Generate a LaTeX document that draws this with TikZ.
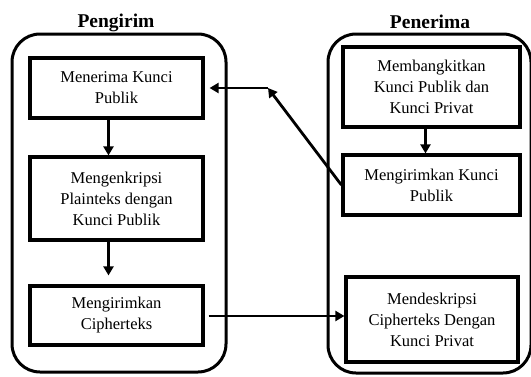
\documentclass[tikz,border=0pt]{standalone}
\usepackage{fontspec}
\setmainfont{Liberation Serif}
\usetikzlibrary{arrows.meta}
\begin{document}
\begin{tikzpicture}[x=1pt,y=-1pt,
  container/.style={line width=3pt,rounded corners=28pt},
  stepbox/.style={draw,line width=3.2pt,align=center,inner sep=0pt,
    font=\fontsize{16.5}{21}\selectfont},
  titletext/.style={font=\fontsize{19.5}{22}\selectfont\bfseries,anchor=base},
  conn/.style={line width=2.8pt,-{Triangle[length=9pt,width=10pt]}}]
\clip (0,0) rectangle (531,376);
\useasboundingbox (0,0) rectangle (531,376);
% containers
\draw[container] (12,34) rectangle (226,372);
\draw[container] (328,34) rectangle (531,373);
% titles
\node[titletext] (t1) at (116,27) {Pengirim};
\node[titletext] (t2) at (430,28) {Penerima};
% left boxes
\node[stepbox,minimum width=173pt,minimum height=60pt] (b1) at (116.5,88) {Menerima Kunci\\Publik};
\node[stepbox,minimum width=173pt,minimum height=83pt] (b2) at (116.5,198.5) {Mengenkripsi\\Plainteks dengan\\Kunci Publik};
\node[stepbox,minimum width=173pt,minimum height=59pt] (b3) at (116.5,315.5) {Mengirimkan\\Cipherteks};
% right boxes
\node[stepbox,minimum width=177pt,minimum height=80pt] (ra) at (431.5,87) {Membangkitkan\\Kunci Publik dan\\Kunci Privat};
\node[stepbox,minimum width=177pt,minimum height=60pt] (rb) at (431.5,185) {Mengirimkan Kunci\\Publik};
\node[stepbox,minimum width=172pt,minimum height=85pt] (rc) at (432,319.5) {Mendeskripsi\\Cipherteks Dengan\\Kunci Privat};
% connectors
\coordinate (corner) at (268,88);
\draw[conn] ([xshift=-8pt]b1.south) -- ([xshift=-8pt]b1.south |- b2.north);
\draw[conn,shorten >=9pt] ([xshift=-8pt]b2.south) -- ([xshift=-8pt]b2.south |- b3.north);
\draw[conn] ([xshift=-6pt]ra.south) -- ([xshift=-6pt]ra.south |- rb.north);
\draw[conn,shorten <=4pt] (b3.east |- 0,316) -- (rc.west |- 0,316);
\draw[conn] (rb.west) -- (corner);
\draw[conn,shorten >=5pt] (corner) -- (b1.east);
\end{tikzpicture}
\end{document}
